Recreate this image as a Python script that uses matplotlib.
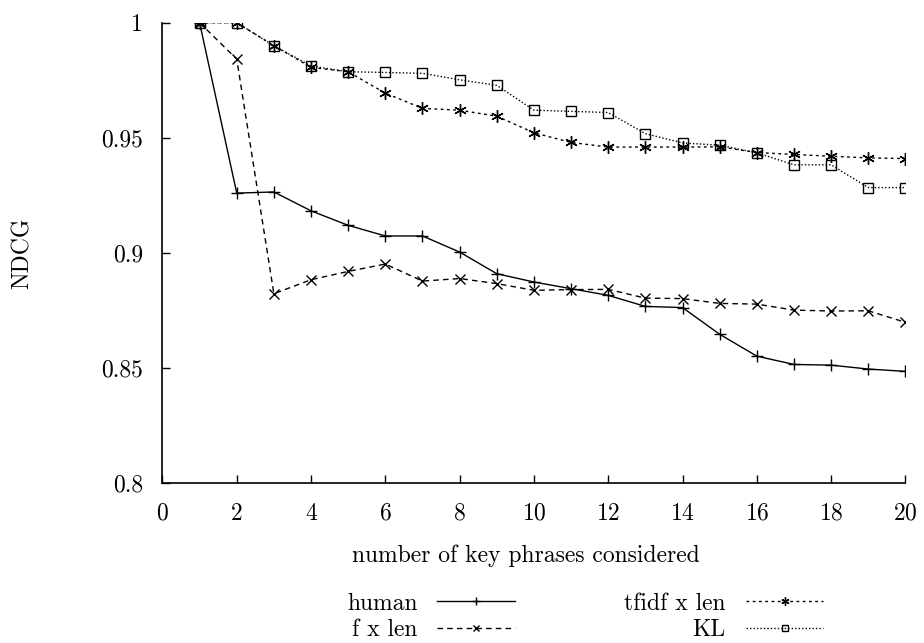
import numpy as np
import matplotlib
matplotlib.use("Agg")
import matplotlib.pyplot as plt

plt.rcParams['font.family'] = 'serif'
plt.rcParams['font.serif'] = ['cmr10', 'DejaVu Serif']
plt.rcParams['mathtext.fontset'] = 'cm'
plt.rcParams['axes.formatter.use_mathtext'] = True

# number of key phrases considered
k = list(range(1, 21))

human = [1.0, 0.926, 0.9265, 0.9183, 0.912, 0.9074, 0.9074, 0.9004, 0.891, 0.8874,
         0.8845, 0.8816, 0.8768, 0.8763, 0.8647, 0.8552, 0.8516, 0.8513, 0.8496, 0.8486]
f_len = [1.0, 0.9842, 0.8823, 0.8884, 0.892, 0.8952, 0.8878, 0.8889, 0.8867, 0.8838,
         0.8841, 0.8842, 0.8804, 0.8802, 0.8781, 0.8778, 0.8752, 0.8748, 0.8749, 0.8699]
tfidf_len = [1.0, 1.0, 0.990, 0.9806, 0.9787, 0.9694, 0.9628, 0.962, 0.9594, 0.9522,
             0.948, 0.946, 0.946, 0.946, 0.9461, 0.9436, 0.9428, 0.942, 0.9413, 0.941]
kl = [1.0, 1.0, 0.990, 0.9812, 0.9787, 0.9784, 0.978, 0.9752, 0.9728, 0.962,
      0.9615, 0.961, 0.9518, 0.9478, 0.9468, 0.9435, 0.9383, 0.9383, 0.9284, 0.9284]

fs = 17

fig = plt.figure(figsize=(9.24, 6.43), dpi=100)
ax = fig.add_axes([0.1758, 0.2484, 0.8041, 0.7163])

ax.plot(k, human, color='black', lw=1, ls='-', marker='+', ms=8, mew=1, label='human')
ax.plot(k, f_len, color='black', lw=1, ls=(0, (4, 3)), marker='x', ms=7, mew=1, label='f x len')
ax.plot(k, tfidf_len, color='black', lw=1, ls=(0, (2, 2.5)), marker=(6, 2, 0), ms=9, mew=1,
        label='tfidf x len')
ax.plot(k, kl, color='black', lw=1, ls=(0, (1, 1.5)), marker='s', ms=7, mew=1,
        fillstyle='none', label='KL')

ax.set_xlim(0, 20)
ax.set_ylim(0.8, 1.0)
ax.set_xticks(range(0, 21, 2))
ax.set_yticks([0.8, 0.85, 0.9, 0.95, 1.0])
ax.set_yticklabels(['0.8', '0.85', '0.9', '0.95', '1'])
ax.spines['top'].set_visible(False)
ax.spines['right'].set_visible(False)
for s in ['left', 'bottom']:
    ax.spines[s].set_linewidth(1.2)
ax.tick_params(direction='in', length=6, width=1, labelsize=fs, pad=14)

ax.set_xlabel('number of key phrases considered', fontsize=fs)
ax.xaxis.set_label_coords(0.489, -0.134)
ax.set_ylabel('NDCG', fontsize=fs)
ax.yaxis.set_label_coords(-0.173, 0.5)

ax.legend(loc='upper center', bbox_to_anchor=(0.569, -0.201), ncol=2, frameon=False,
          markerfirst=False, numpoints=1, fontsize=fs, handlelength=3.3,
          columnspacing=4.6, labelspacing=0.2, handletextpad=0.85, markerscale=0.65,
          borderpad=0.2)

fig.savefig('out.png', dpi=100)
